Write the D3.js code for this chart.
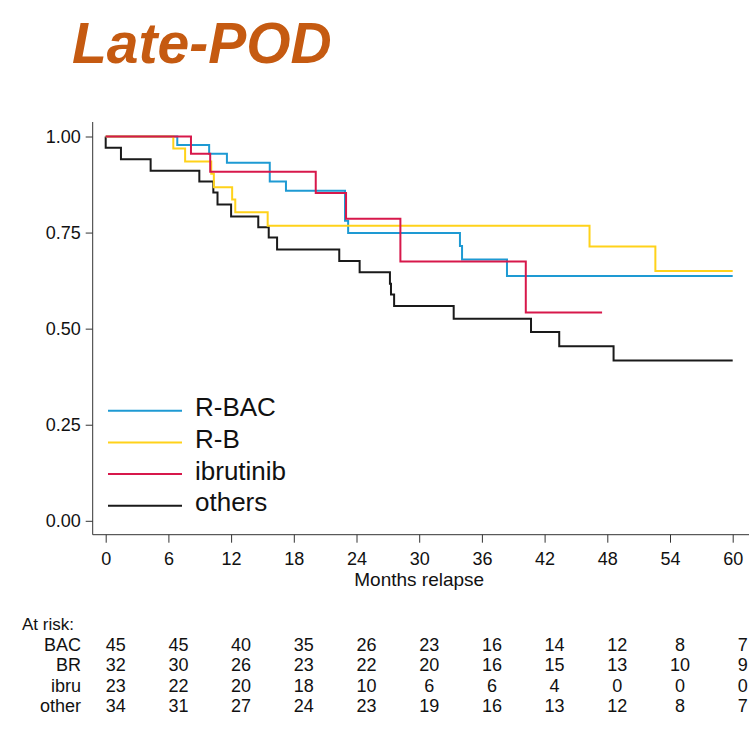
<!DOCTYPE html>
<html>
<head>
<meta charset="utf-8">
<script src="https://cdn.jsdelivr.net/npm/d3@7"></script>
<style>
  body { margin: 0; background: #fff; }
  svg { display: block; font-family: "Liberation Sans", Arial, sans-serif; }
</style>
</head>
<body>
<div id="chart"></div>
<script>
var groups = ["R-BAC", "R-B", "ibrutinib", "others"],
    colors = ["#1E9AD3", "#FFD21A", "#D7184B", "#1A1A1A"];

// Kaplan-Meier steps (months, survival)
var bacTime = [0, 6.85, 9.9, 11.6, 15.7, 17.25, 22.9, 23.2, 33.9, 34.1, 38.4, 60],
    bacSurv = [1, 0.978, 0.955, 0.932, 0.883, 0.859, 0.781, 0.749, 0.715, 0.680, 0.637, 0.637];
var rbTime = [0, 6.47, 7.6, 10.1, 10.35, 12.1, 12.4, 15.5, 46.3, 52.6, 60],
    rbSurv = [1, 0.969, 0.935, 0.903, 0.868, 0.836, 0.803, 0.768, 0.714, 0.650, 0.650];
var ibruTime = [0, 8.16, 10.0, 20.1, 23.0, 28.2, 40.2, 47.5],
    ibruSurv = [1, 0.955, 0.908, 0.853, 0.786, 0.675, 0.542, 0.542];
var otherTime = [0, 0, 1.46, 4.3, 8.96, 10.3, 10.7, 12.0, 14.6, 15.6, 16.4, 22.35, 24.3, 27.2, 27.3, 27.6, 33.3, 40.7, 43.4, 48.6, 60],
    otherSurv = [1, 0.971, 0.941, 0.911, 0.883, 0.854, 0.823, 0.792, 0.764, 0.737, 0.706, 0.676, 0.647, 0.617, 0.589, 0.559, 0.526, 0.491, 0.454, 0.417, 0.417];

var xTicks = [0, 6, 12, 18, 24, 30, 36, 42, 48, 54, 60],
    yTicks = [0, 0.25, 0.5, 0.75, 1];

var riskLabels = ["BAC", "BR", "ibru", "other"],
    riskBAC = [45, 45, 40, 35, 26, 23, 16, 14, 12, 8, 7],
    riskBR = [32, 30, 26, 23, 22, 20, 16, 15, 13, 10, 9],
    riskIbru = [23, 22, 20, 18, 10, 6, 6, 4, 0, 0, 0],
    riskOther = [34, 31, 27, 24, 23, 19, 16, 13, 12, 8, 7];

var width = 754, height = 731;

var svg = d3.select("#chart").append("svg")
    .attr("width", width)
    .attr("height", height);

var xScale = d3.scaleLinear().domain([0, 60]).range([105.7, 732.7]);
var yScale = d3.scaleLinear().domain([0, 1]).range([520.8, 136.5]);

// title
svg.append("text")
    .attr("x", 72)
    .attr("y", 63)
    .style("font-size", "57px")
    .style("font-weight", "bold")
    .style("font-style", "italic")
    .style("fill", "#C55A11")
    .text("Late-POD");

// axes (Stata style, offset from the data region)
var axisX = 92.7, axisY = 534.7;

var yAxis = d3.axisLeft(yScale)
    .tickValues(yTicks)
    .tickFormat(d3.format(".2f"))
    .tickSize(7)
    .tickPadding(5);

var yGuide = svg.append("g")
    .attr("transform", "translate(" + axisX + ",0)")
    .call(yAxis);

var xAxis = d3.axisBottom(xScale)
    .tickValues(xTicks)
    .tickSize(8)
    .tickPadding(10);

var xGuide = svg.append("g")
    .attr("transform", "translate(0," + axisY + ")")
    .call(xAxis);

[yGuide, xGuide].forEach(function (g) {
    g.select(".domain").remove();
    g.selectAll("line").attr("stroke", "#333");
    g.selectAll("text")
        .style("font-size", "18px")
        .style("font-family", "'Liberation Sans', Arial, sans-serif")
        .attr("fill", "#111");
});

svg.append("line")
    .attr("x1", axisX).attr("x2", axisX)
    .attr("y1", 122).attr("y2", axisY)
    .attr("stroke", "#333");
svg.append("line")
    .attr("x1", axisX).attr("x2", 749)
    .attr("y1", axisY).attr("y2", axisY)
    .attr("stroke", "#333");

svg.append("text")
    .attr("x", (xScale(0) + xScale(60)) / 2)
    .attr("y", 586)
    .attr("text-anchor", "middle")
    .style("font-size", "19px")
    .attr("fill", "#111")
    .text("Months relapse");

// curves
var series = [
    { name: groups[3], color: colors[3], time: otherTime, surv: otherSurv },
    { name: groups[0], color: colors[0], time: bacTime, surv: bacSurv },
    { name: groups[1], color: colors[1], time: rbTime, surv: rbSurv },
    { name: groups[2], color: colors[2], time: ibruTime, surv: ibruSurv }
];

var line = d3.line()
    .x(function (d) { return xScale(d[0]); })
    .y(function (d) { return yScale(d[1]); })
    .curve(d3.curveStepAfter);

svg.selectAll("path.km")
    .data(series)
    .enter()
    .append("path")
    .attr("class", "km")
    .attr("d", function (s) {
        return line(s.time.map(function (t, i) { return [t, s.surv[i]]; }));
    })
    .attr("fill", "none")
    .attr("stroke", function (s) { return s.color; })
    .attr("stroke-width", 2);

// legend
var legend = svg.append("g").attr("transform", "translate(108, 410.7)");
groups.forEach(function (g, i) {
    var row = legend.append("g").attr("transform", "translate(0," + (i * 31.7) + ")");
    row.append("line")
        .attr("x1", 0).attr("x2", 74)
        .attr("stroke", colors[i])
        .attr("stroke-width", 2);
    row.append("text")
        .attr("x", 87)
        .attr("y", 5.5)
        .style("font-size", "26px")
        .attr("fill", "#111")
        .text(g);
});

// number at risk table
var riskRows = [riskBAC, riskBR, riskIbru, riskOther];

svg.append("text")
    .attr("x", 22)
    .attr("y", 630)
    .style("font-size", "17px")
    .attr("fill", "#111")
    .text("At risk:");

riskRows.forEach(function (vals, r) {
    var yy = 650.5 + r * 20.5;
    svg.append("text")
        .attr("x", 81)
        .attr("y", yy)
        .attr("text-anchor", "end")
        .style("font-size", "18px")
        .attr("fill", "#111")
        .text(riskLabels[r]);
    svg.selectAll(null)
        .data(vals)
        .enter()
        .append("text")
        .attr("x", function (d, i) { return xScale(xTicks[i]) + 10; })
        .attr("y", yy)
        .attr("text-anchor", "middle")
        .style("font-size", "18px")
        .attr("fill", "#111")
        .text(function (d) { return d; });
});
</script>
</body>
</html>
